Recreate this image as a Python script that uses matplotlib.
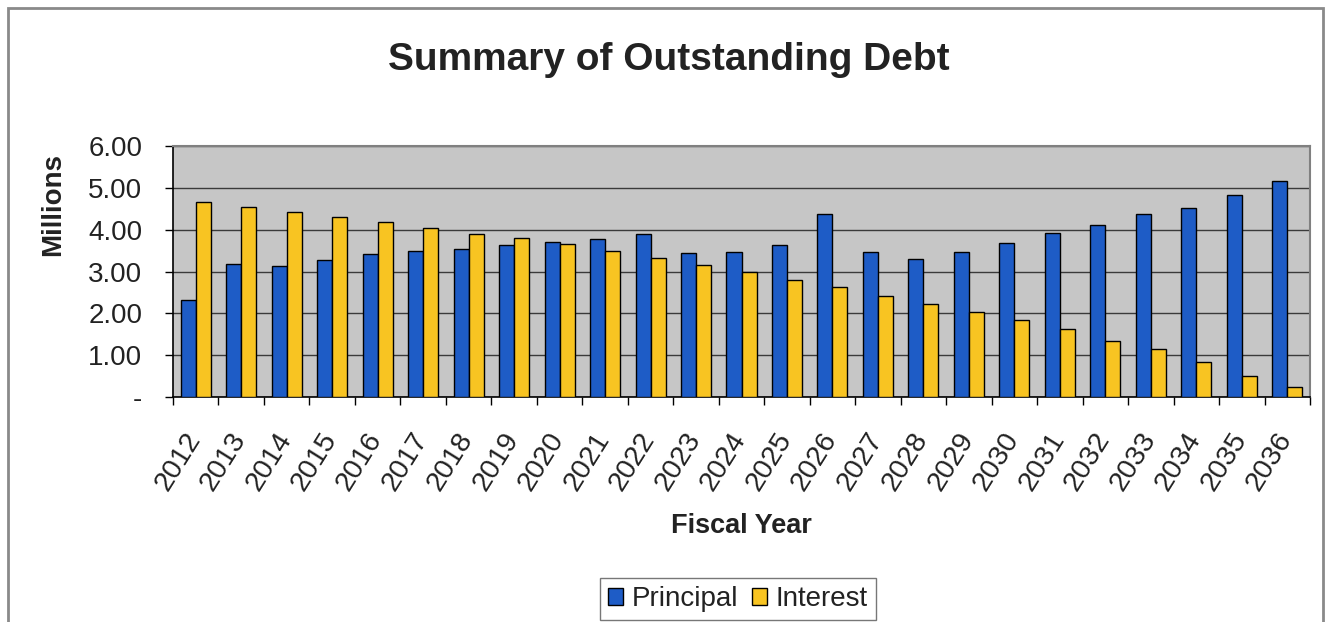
"""Summary of outstanding debt: principal vs interest per fiscal year."""

import numpy as np
import matplotlib
matplotlib.use('Agg')
import matplotlib.pyplot as plt
import matplotlib.ticker as mticker
import matplotlib.transforms as mtransforms
from matplotlib.patches import Rectangle


years = list(range(2012, 2037))

# Millions of dollars
principal = [2.31, 3.17, 3.14, 3.28, 3.41, 3.50, 3.54, 3.63, 3.71, 3.77,
             3.89, 3.45, 3.46, 3.64, 4.38, 3.47, 3.30, 3.47, 3.68, 3.92,
             4.12, 4.37, 4.52, 4.82, 5.16]
interest = [4.65, 4.55, 4.43, 4.30, 4.19, 4.05, 3.90, 3.79, 3.66, 3.50,
            3.32, 3.16, 2.98, 2.80, 2.62, 2.42, 2.22, 2.02, 1.83, 1.62,
            1.35, 1.14, 0.84, 0.51, 0.23]

_BLUE = '#1e5cc6'
_YELLOW = '#f8c422'
_PLOT_BG = '#c6c6c6'
_TEXT = '#222222'

plt.rcParams['font.family'] = ['Liberation Sans', 'DejaVu Sans']
plt.rcParams['text.color'] = _TEXT
plt.rcParams['xtick.labelcolor'] = _TEXT
plt.rcParams['ytick.labelcolor'] = _TEXT

W, H = 1326, 622
fig = plt.figure(figsize=(W / 100, H / 100), dpi=100)
ax = fig.add_axes([173 / W, 1 - 397 / H, (1310 - 173) / W, (397 - 146) / H])

x = np.arange(len(years))
bw = 0.33
ax.bar(x - bw / 2, principal, width=bw, color=_BLUE, edgecolor='black',
       linewidth=1.0, label='Principal', zorder=3)
ax.bar(x + bw / 2, interest, width=bw, color=_YELLOW, edgecolor='black',
       linewidth=1.0, label='Interest', zorder=3)

ax.set_facecolor(_PLOT_BG)
ax.set_xlim(-0.5, len(years) - 0.5)
ax.set_ylim(0, 6)

# y axis: whole millions, zero shown as a dash
ax.yaxis.set_major_locator(mticker.MultipleLocator(1))
ax.yaxis.set_major_formatter(
    mticker.FuncFormatter(lambda v, _: '-' if abs(v) < 1e-9 else f'{v:.2f}'))
ax.grid(axis='y', color='#3a3a3a', linewidth=1.0, zorder=1)
ax.tick_params(axis='y', direction='out', length=6, width=1, pad=16,
               labelsize=20)

# x axis: tick marks on the group boundaries, labels in the middle
ax.set_xticks(np.arange(len(years) + 1) - 0.5)
ax.set_xticklabels([])
ax.tick_params(axis='x', which='major', direction='out', length=6, width=1)
ax.set_xticks(x, minor=True)
ax.set_xticklabels([str(y) for y in years], minor=True, rotation=58,
                   ha='right', va='top', rotation_mode='anchor',
                   fontsize=20.5)
ax.tick_params(axis='x', which='minor', length=0, pad=22)
shift = mtransforms.ScaledTranslation(-12 / 100, 0, fig.dpi_scale_trans)
for lbl in ax.get_xticklabels(minor=True):
    lbl.set_transform(lbl.get_transform() + shift)

for side in ('left', 'bottom'):
    ax.spines[side].set_color('black')
    ax.spines[side].set_linewidth(1.2)
for side in ('top', 'right'):
    ax.spines[side].set_color('#808080')
    ax.spines[side].set_linewidth(1.5)

fig.text(669 / W, 1 - 60 / H, 'Summary of Outstanding Debt', ha='center',
         va='center', fontsize=28, fontweight='bold')
fig.text(53 / W, 1 - 204 / H, 'Millions', ha='center', va='center',
         rotation=90, fontsize=20, fontweight='bold')
fig.text(741 / W, 1 - 526 / H, 'Fiscal Year', ha='center', va='center',
         fontsize=19.5, fontweight='bold')

leg = fig.legend(loc='center', bbox_to_anchor=(738 / W, 1 - 599 / H),
                 ncol=2, fontsize=20, frameon=True, fancybox=False,
                 handlelength=0.55, handleheight=0.55, handletextpad=0.3,
                 columnspacing=0.5, borderpad=0.3)
leg.get_frame().set_edgecolor('#555555')
leg.get_frame().set_linewidth(1.0)

# outer chart frame
fig.patches.append(Rectangle((8 / W, -0.05), (1323 - 8) / W, 1.05 - 8 / H,
                             transform=fig.transFigure, fill=False,
                             edgecolor='#8a8a8a', linewidth=2))

fig.savefig('out.png', dpi=100)
plt.close(fig)
